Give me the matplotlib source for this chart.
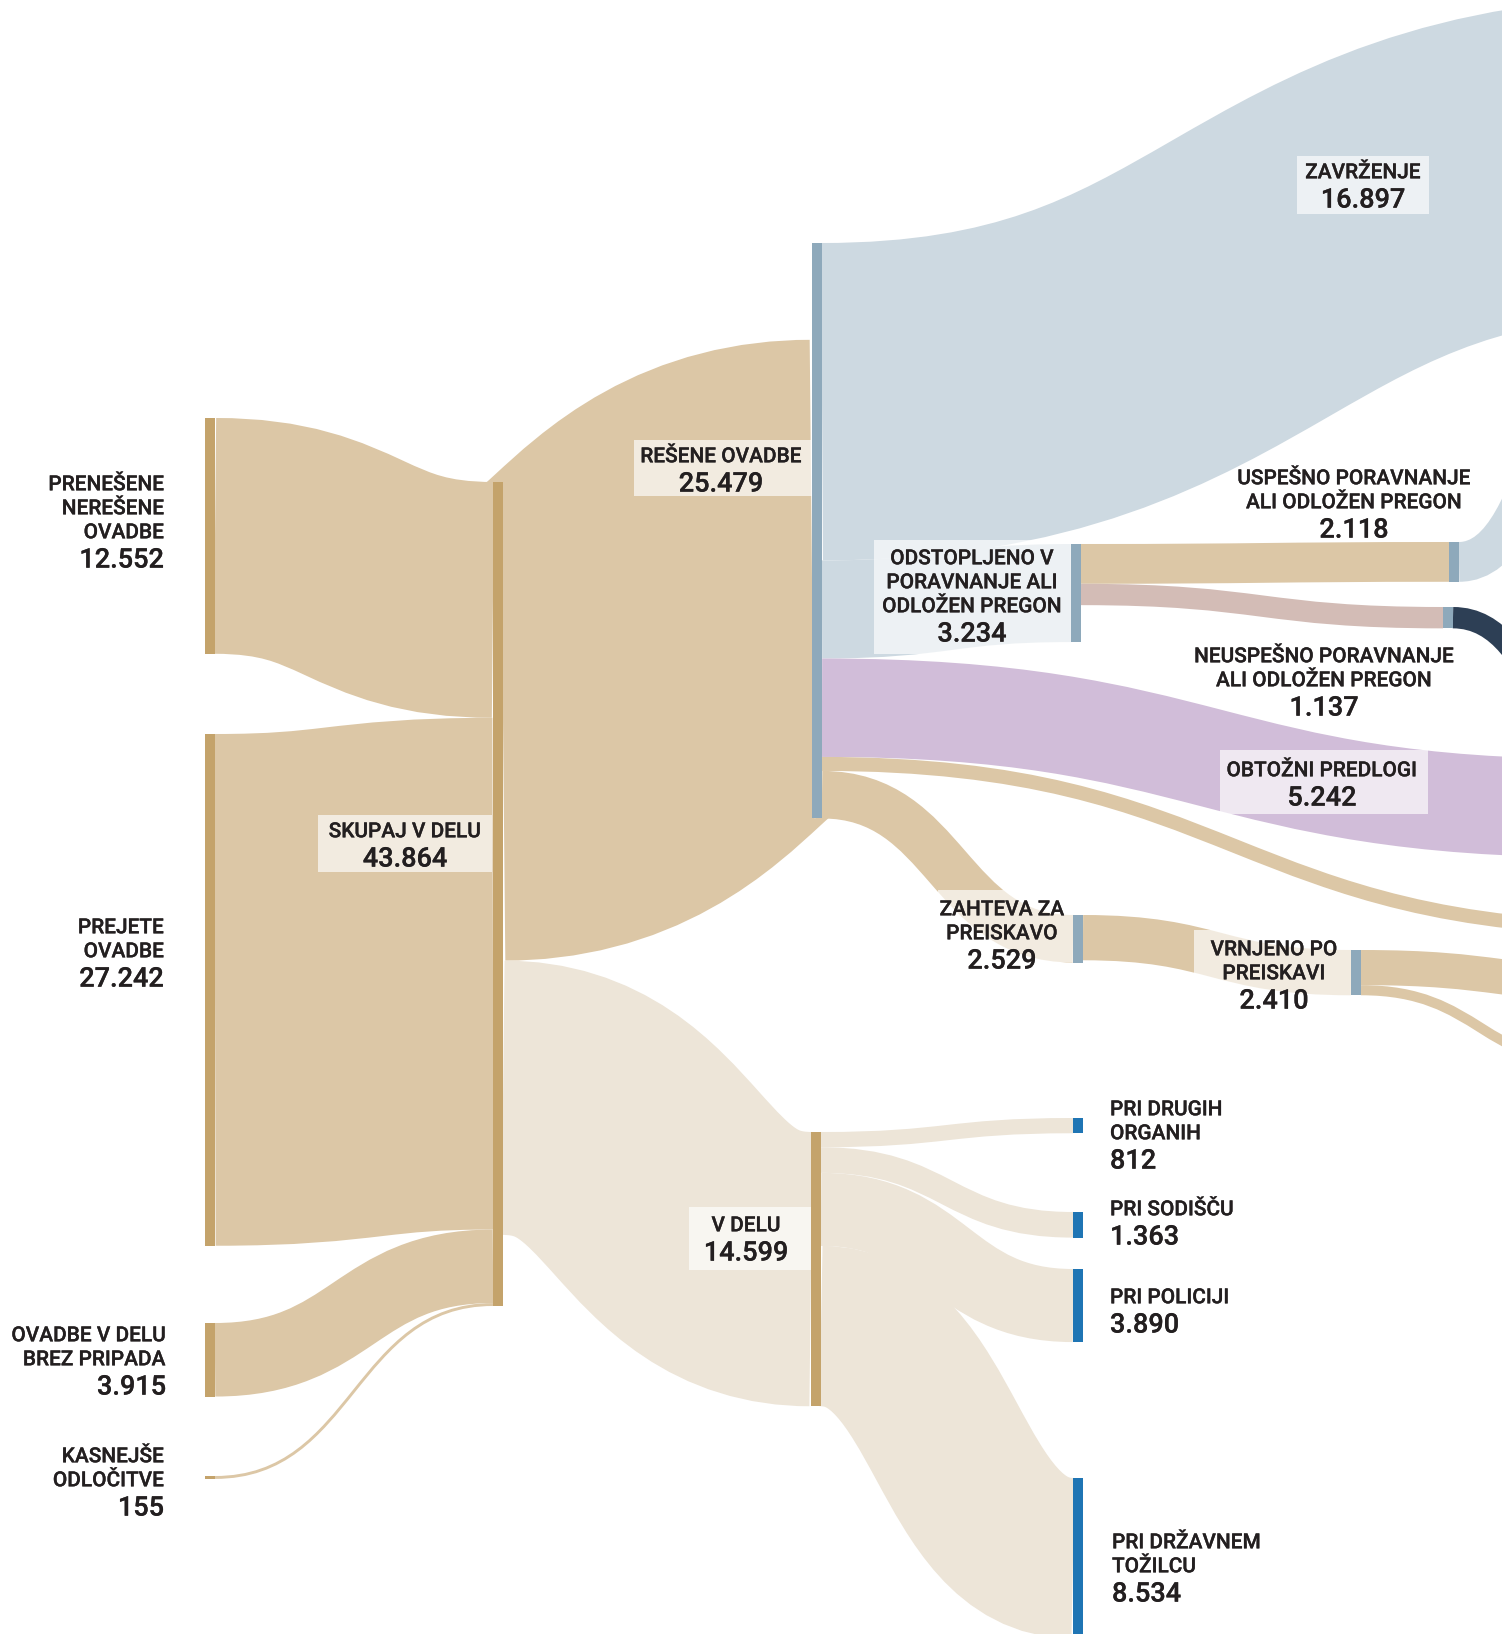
import numpy as np
import matplotlib.pyplot as plt
import matplotlib.patheffects as pe
from matplotlib.path import Path
from matplotlib.patches import PathPatch, Rectangle

# ---------------- data (number of cases) ----------------
node_ids = ["pren", "prej", "ovadbe", "kasn", "skupaj", "resene", "vdelu",
            "odst", "zaht", "vrnj", "usp", "neusp",
            "drugi", "sodisce", "policija", "tozilec", "zavr", "obt"]
node_text = [["PRENEŠENE", "NEREŠENE", "OVADBE"], ["PREJETE", "OVADBE"],
             ["OVADBE V DELU", "BREZ PRIPADA"], ["KASNEJŠE", "ODLOČITVE"],
             ["SKUPAJ V DELU"], ["REŠENE OVADBE"], ["V DELU"],
             ["ODSTOPLJENO V", "PORAVNANJE ALI", "ODLOŽEN PREGON"],
             ["ZAHTEVA ZA", "PREISKAVO"], ["VRNJENO PO", "PREISKAVI"],
             ["USPEŠNO PORAVNANJE", "ALI ODLOŽEN PREGON"],
             ["NEUSPEŠNO PORAVNANJE", "ALI ODLOŽEN PREGON"],
             ["PRI DRUGIH", "ORGANIH"], ["PRI SODIŠČU"], ["PRI POLICIJI"],
             ["PRI DRŽAVNEM", "TOŽILCU"], ["ZAVRŽENJE"], ["OBTOŽNI PREDLOGI"]]
node_value = [12552, 27242, 3915, 155, 43864, 25479, 14599,
              3234, 2529, 2410, 2118, 1137,
              812, 1363, 3890, 8534, 16897, 5242]

link_src = ["pren", "prej", "ovadbe", "kasn", "skupaj", "skupaj",
            "resene", "resene", "resene", "resene", "resene",
            "zaht", "vrnj", "vrnj", "odst", "odst", "usp", "neusp",
            "vdelu", "vdelu", "vdelu", "vdelu"]
link_tgt = ["skupaj", "skupaj", "skupaj", "skupaj", "resene", "vdelu",
            "zavr", "odst", "obt", "tan_end", "zaht",
            "vrnj", "vrnj_up", "vrnj_low", "usp", "neusp", "usp_end", "neu_end",
            "drugi", "sodisce", "policija", "tozilec"]
link_val = [12552, 27242, 3915, 155, 25479, 14599,
            16897, 5220, 5242, 745, 2529,
            2410, 1870, 540, 2118, 1137, 2118, 1137,
            812, 1363, 3890, 8534]

# ---------------- styles / layout ----------------
TAN, TAN_L, BLUE_L, PURPLE = "#dcc7a6", "#ede5d8", "#cdd9e1", "#d1bdd9"
PINK, NAVY = "#d3bcb6", "#2d3f55"
link_col = [TAN, TAN, TAN, TAN, TAN, TAN_L,
            BLUE_L, BLUE_L, PURPLE, TAN, TAN,
            TAN, TAN, TAN, TAN, PINK, BLUE_L, NAVY,
            TAN_L, TAN_L, TAN_L, TAN_L]

BAR_TAN, BAR_GREY, BAR_BLUE = "#c4a36b", "#8ea9bb", "#1f75b4"
# node: (left x px, top y px, bar colour, incoming alignment)
layout = {
    "pren": (205, 418, BAR_TAN, "top"), "prej": (205, 734, BAR_TAN, "top"),
    "ovadbe": (205, 1323, BAR_TAN, "top"), "kasn": (205, 1476, BAR_TAN, "top"),
    "skupaj": (493, 482, BAR_TAN, "top"),
    "resene": (812, 243, BAR_GREY, "bottom"), "vdelu": (811, 1132, BAR_TAN, "top"),
    "odst": (1071, 544, BAR_GREY, "top"), "zaht": (1073, 915, BAR_GREY, "top"),
    "vrnj": (1351, 950, BAR_GREY, "top"),
    "usp": (1449, 542, BAR_GREY, "top"), "neusp": (1443, 607, BAR_GREY, "top"),
    "drugi": (1073, 1118, BAR_BLUE, "top"), "sodisce": (1073, 1212, BAR_BLUE, "top"),
    "policija": (1073, 1269, BAR_BLUE, "top"), "tozilec": (1073, 1478, BAR_BLUE, "top"),
    # nodes outside the visible crop
    "zavr": (1680, -4, None, "top"), "obt": (1600, 759, None, "top"),
    "tan_end": (1650, 922, None, "top"), "vrnj_up": (1640, 968, None, "top"),
    "vrnj_low": (1600, 1060, None, "top"), "usp_end": (1640, 280, None, "top"),
    "neu_end": (1640, 789, None, "top"),
}
BAR_W = 10

# label: (x px, first line centre y px, ha)
label_pos = {
    "pren": (164, 483, "right"), "prej": (164, 926, "right"),
    "ovadbe": (166, 1334, "right"), "kasn": (164, 1455, "right"),
    "skupaj": (405, 830, "center"), "resene": (721, 455, "center"),
    "vdelu": (746, 1224, "center"), "odst": (972, 557, "center"),
    "zaht": (1002, 908, "center"), "vrnj": (1274, 948, "center"),
    "usp": (1354, 477, "center"), "neusp": (1324, 655, "center"),
    "drugi": (1110, 1108, "left"), "sodisce": (1110, 1208, "left"),
    "policija": (1110, 1296, "left"), "tozilec": (1112, 1541, "left"),
    "zavr": (1363, 171, "center"), "obt": (1322, 769, "center"),
}
# translucent boxes behind labels: (x0, y0, x1, y1) px
label_box = [(318, 815, 492, 872), (634, 440, 812, 496), (689, 1207, 811, 1270),
             (874, 540, 1071, 654), (938, 890, 1073, 962), (1194, 930, 1351, 996),
             (1297, 156, 1429, 214), (1220, 750, 1428, 814)]

W_PX, H_PX = 1502, 1634
CASES_PER_PX = 43864 / 824.0


def Y(px):
    return px * CASES_PER_PX


plt.rcParams["font.family"] = ["Roboto", "DejaVu Sans"]
fig = plt.figure(figsize=(W_PX / 100, H_PX / 100), dpi=100)
ax = fig.add_axes([0, 0, 1, 1])
ax.set_xlim(0, W_PX)
ax.set_ylim(Y(H_PX), 0)
ax.axis("off")

# node sizes and link stacking
all_nodes = list(layout.keys())
in_sum = {n: 0 for n in all_nodes}
out_sum = {n: 0 for n in all_nodes}
for s, t, v in zip(link_src, link_tgt, link_val):
    out_sum[s] += v
    in_sum[t] += v
height = {n: max(in_sum[n], out_sum[n]) for n in all_nodes}
out_off = {n: 0 for n in all_nodes}
in_off = {n: (height[n] - in_sum[n]) if layout[n][3] == "bottom" else 0
          for n in all_nodes}

p0 = ax.transData.transform((0, 0))
p1 = ax.transData.transform((0, 1000))
px_per_case = abs(p1[1] - p0[1]) / 1000.0

for s, t, v, c in zip(link_src, link_tgt, link_val, link_col):
    xs, ys_top = layout[s][0] + BAR_W, Y(layout[s][1])
    xt, yt_top = layout[t][0], Y(layout[t][1])
    y0 = ys_top + out_off[s] + v / 2
    y1 = yt_top + in_off[t] + v / 2
    out_off[s] += v
    in_off[t] += v
    xm = (xs + xt) / 2
    path = Path([(xs, y0), (xm, y0), (xm, y1), (xt, y1)],
                [Path.MOVETO, Path.CURVE4, Path.CURVE4, Path.CURVE4])
    ax.add_patch(PathPatch(path, facecolor="none", edgecolor=c,
                           lw=v * px_per_case * 72 / fig.dpi,
                           capstyle="butt", zorder=1))

for x0, y0, x1, y1 in label_box:
    ax.add_patch(Rectangle((x0, Y(y0)), x1 - x0, Y(y1) - Y(y0),
                           facecolor="white", alpha=0.66, lw=0, zorder=2))

for n in all_nodes:
    x, top, col, _ = layout[n]
    if col is None:
        continue
    ax.add_patch(Rectangle((x, Y(top)), BAR_W, height[n],
                           facecolor=col, lw=0, zorder=3))

TXT = "#231f20"
LINE_H, NUM_GAP = 24, 27
heavy = [pe.withStroke(linewidth=0.2, foreground=TXT)]
for n, lines, val in zip(node_ids, node_text, node_value):
    x, yc, ha = label_pos[n]
    for i, line in enumerate(lines):
        ax.text(x, Y(yc + i * LINE_H + 7.3), line, ha=ha, va="baseline",
                fontsize=15, fontweight="medium", color=TXT, zorder=4,
                path_effects=heavy)
    yn = yc + (len(lines) - 1) * LINE_H + NUM_GAP
    ax.text(x, Y(yn + 9.6), f"{val:,}".replace(",", "."), ha=ha, va="baseline",
            fontsize=19.5, fontweight="medium", color=TXT, zorder=4,
            path_effects=heavy)

fig.savefig("out.png", dpi=100, facecolor="white")
